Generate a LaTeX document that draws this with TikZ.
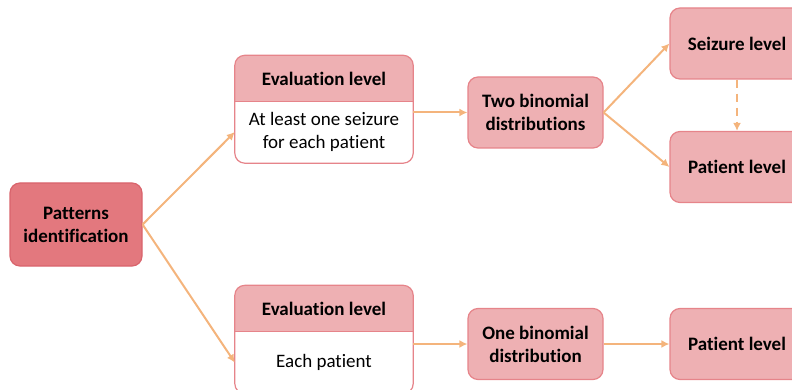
\documentclass[tikz,border=0pt]{standalone}
\usepackage{fontspec}
\setmainfont{Carlito}[Ligatures=NoCommon]
\usetikzlibrary{arrows.meta,backgrounds}

\definecolor{rootfill}{HTML}{E3787E}
\definecolor{rootline}{HTML}{D9646C}
\definecolor{boxfill}{HTML}{EEB0B3}
\definecolor{boxline}{HTML}{E6848A}
\definecolor{flow}{HTML}{F4B47C}

\tikzset{
  txt/.style={align=center, inner sep=0pt, font=\fontsize{19}{23}\selectfont},
  btxt/.style={align=center, inner sep=0pt, font=\fontsize{19}{23}\selectfont\bfseries},
  root/.style={btxt, fill=rootfill, draw=rootline, line width=1.2pt, rounded corners=10pt,
    minimum width=132pt, minimum height=83pt},
  stage/.style={btxt, fill=boxfill, draw=boxline, line width=1.2pt, rounded corners=10pt,
    minimum width=135pt, minimum height=71pt},
  level/.style={stage, minimum width=134pt},
  evalhead/.style={btxt, minimum width=178pt, minimum height=46pt},
  evalbody/.style={txt, minimum width=178pt, minimum height=62pt},
  flowline/.style={draw=flow, line width=2pt, -{Latex[length=8pt,width=8pt]}},
  flowdash/.style={flowline, dash pattern=on 8pt off 6pt},
}

% draws the two-part evaluation box behind its header and body nodes
\newcommand{\evalframe}[2]{%
  \begin{scope}[on background layer]
    \fill[white, rounded corners=10pt] (#1.north west) rectangle (#2.south east);
    \begin{scope}
      \clip[rounded corners=10pt] (#1.north west) rectangle (#2.south east);
      \fill[boxfill] (#1.north west) rectangle (#1.south east);
    \end{scope}
    \draw[boxline, line width=1.2pt] (#1.south west) -- (#1.south east);
    \draw[boxline, line width=1.2pt, rounded corners=10pt] (#1.north west) rectangle (#2.south east);
  \end{scope}}

\begin{document}
\begin{tikzpicture}[x=1pt, y=-1pt]
  \useasboundingbox (0,0) rectangle (792,390);
  \clip (0,0) rectangle (792,390);

  % root
  \node[root] (root) at (76,224.5) {Patterns\\identification};

  % upper branch
  \node[evalhead] (headA) at (324,78.5) {Evaluation level};
  \node[evalbody] (bodyA) at (324,132) {At least one seizure\\for each patient};
  \evalframe{headA}{bodyA}
  \node[stage] (two) at (535.5,112.5) {Two binomial\\distributions};
  \node[level] (seiz) at (737,43.5) {Seizure level};
  \node[level] (patA) at (737,167) {Patient level};

  % lower branch
  \node[evalhead] (headB) at (324,308.5) {Evaluation level};
  \node[evalbody] (bodyB) at (324,362.5) {Each patient};
  \evalframe{headB}{bodyB}
  \node[stage] (one) at (535.5,344) {One binomial\\distribution};
  \node[level] (patB) at (737,344) {Patient level};

  % connectors
  \draw[flowline] (root.east) -- (bodyA.west);
  \draw[flowline] (root.east) -- (bodyB.west);
  \draw[flowline] (bodyA.east |- two.west) -- (two.west);
  \draw[flowline] (bodyB.east |- one.west) -- (one.west);
  \draw[flowline] (two.east) -- (seiz.west);
  \draw[flowline] (two.east) -- (patA.west);
  \draw[flowdash] (seiz.south) -- (patA.north);
  \draw[flowline] (one.east) -- (patB.west);
\end{tikzpicture}
\end{document}
